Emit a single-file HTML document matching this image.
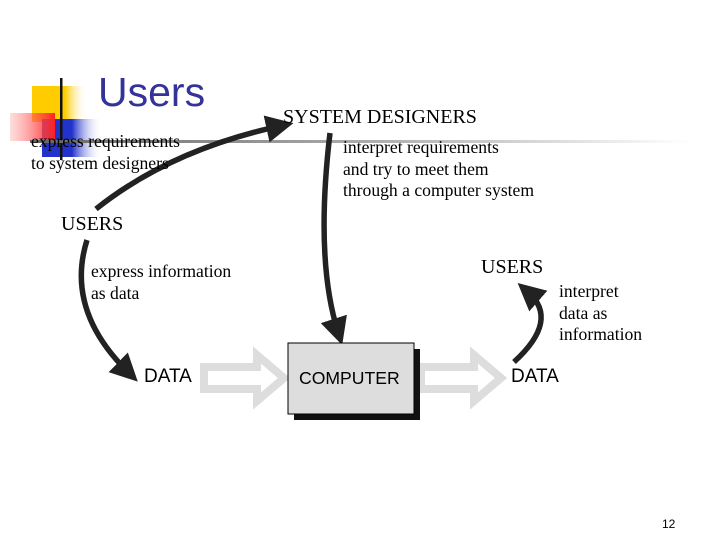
<!DOCTYPE html>
<html><head><style>
body{margin:0;width:720px;height:540px;background:#fff;position:relative;overflow:hidden;font-family:"Liberation Serif",serif}
.t{position:absolute;font-size:17.6px;line-height:21.5px;color:#000;white-space:nowrap}
.s{font-family:"Liberation Sans",sans-serif;font-size:19px}
</style></head><body>
<svg width="720" height="540" style="position:absolute;left:0;top:0">
<defs>
<linearGradient id="gy" x1="0" x2="1"><stop offset="0" stop-color="#ffcc00"/><stop offset="0.6" stop-color="#ffcc00"/><stop offset="1" stop-color="#fff" stop-opacity="0"/></linearGradient>
<linearGradient id="gr" x1="0" x2="1"><stop offset="0" stop-color="#ff9090" stop-opacity="0.3"/><stop offset="1" stop-color="#ff2020"/></linearGradient>
<linearGradient id="gb" x1="0" x2="1"><stop offset="0" stop-color="#2233cc"/><stop offset="0.5" stop-color="#2233cc"/><stop offset="1" stop-color="#fff" stop-opacity="0"/></linearGradient>
<linearGradient id="gl" x1="0" x2="1"><stop offset="0" stop-color="#666"/><stop offset="0.5" stop-color="#aaa"/><stop offset="1" stop-color="#fff"/></linearGradient>
<marker id="a" markerWidth="5" markerHeight="5" refX="2.5" refY="2.5" orient="auto" markerUnits="strokeWidth"><path d="M0,0 L5,2.5 L0,5 Z" fill="#222"/></marker>
</defs>
<rect x="32" y="86" width="55" height="36" fill="url(#gy)"/>
<rect x="42" y="119" width="60" height="38" fill="url(#gb)"/>
<rect x="10" y="113" width="45" height="28" fill="url(#gr)"/>
<rect x="60" y="78" width="2.5" height="82" fill="#111"/>
<rect x="30" y="140" width="660" height="3" fill="url(#gl)"/>
<g fill="none" stroke="#222" stroke-width="5.5">
<path d="M96,209 Q170,150 280,126" marker-end="url(#a)"/>
<path d="M330,133 Q315,260 338,332" marker-end="url(#a)"/>
<path d="M87,240 Q65,310 128,372" marker-end="url(#a)"/>
<path d="M514,362 Q560,320 528,292" marker-end="url(#a)"/>
</g>
<g fill="#fff" stroke="#ddd" stroke-width="8">
<path d="M204,367 H257 V355 L284,378 L257,401 V389 H204 Z"/>
<path d="M421,367 H474 V355 L501,378 L474,401 V389 H421 Z"/>
</g>
<rect x="294" y="349" width="126" height="71" fill="#111"/>
<rect x="288" y="343" width="126" height="71" fill="#ddd" stroke="#000" stroke-width="1"/>
</svg>
<div class="t" style="left:98px;top:68px;font-family:'Liberation Sans',sans-serif;font-size:41px;line-height:48px;color:#333399">Users</div>
<div class="t" style="left:31px;top:131px">express requirements<br>to system designers</div>
<div class="t" style="left:283px;top:107px;font-size:20px">SYSTEM DESIGNERS</div>
<div class="t" style="left:343px;top:137px">interpret requirements<br>and try to meet them<br>through a computer system</div>
<div class="t" style="left:61px;top:214px;font-size:20px">USERS</div>
<div class="t" style="left:91px;top:261px">express information<br>as data</div>
<div class="t" style="left:481px;top:257px;font-size:20px">USERS</div>
<div class="t" style="left:559px;top:281px">interpret<br>data as<br>information</div>
<div class="t s" style="left:144px;top:366px">DATA</div>
<div class="t s" style="left:299px;top:368px;font-size:17.6px">COMPUTER</div>
<div class="t s" style="left:511px;top:366px">DATA</div>
<div class="t" style="left:662px;top:514px;font-family:'Liberation Sans',sans-serif;font-size:12px">12</div>
</body></html>
